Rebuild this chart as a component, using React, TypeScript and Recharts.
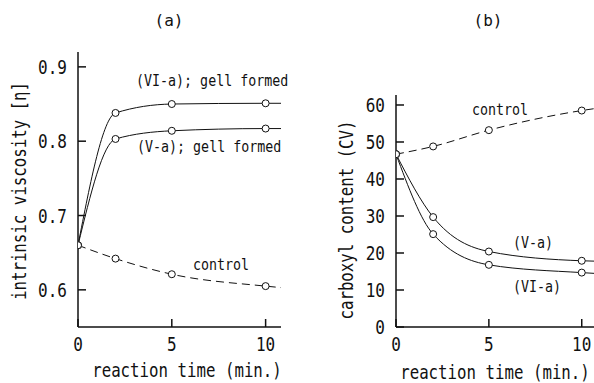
// Viscosity and carboxyl content vs. reaction time, two panels side by side

import { LineChart, Line, XAxis, YAxis } from "recharts";

// panel (a): intrinsic viscosity [η]
const timesA = [0, 2, 5, 10, 10.82];
const viscVIa = [0.66, 0.838, 0.85, 0.851, 0.851];
const viscVa = [0.66, 0.803, 0.814, 0.817, 0.817];
const viscControl = [0.66, 0.642, 0.621, 0.605, 0.603];
const viscTicks = [0.6, 0.7, 0.8, 0.9];

// panel (b): carboxyl content (CV)
const timesB = [0, 2, 5, 10, 10.66];
const carbControl = [46.7, 48.8, 53.2, 58.5, 59.0];
const carbVa = [46.7, 29.7, 20.4, 17.9, 17.8];
const carbVIa = [46.7, 25.1, 16.8, 14.7, 14.5];
const carbTicks = [0, 10, 20, 30, 40, 50, 60];

const timeTicks = [0, 5, 10];

const INK = "#111";
const FONT = "DejaVu Sans Mono";

const tableA = timesA.map((t, i) => ({ t, via: viscVIa[i], va: viscVa[i], ctl: viscControl[i] }));
const tableB = timesB.map((t, i) => ({ t, via: carbVIa[i], va: carbVa[i], ctl: carbControl[i] }));

// narrow typewriter-ish text
function Txt({ x, y, size, sx = 0.83, anchor = "middle", rotate = 0, children }: any) {
  return (
    <text
      transform={`translate(${x} ${y}) rotate(${rotate}) scale(${sx} 1)`}
      textAnchor={anchor}
      dominantBaseline="central"
      fontSize={size}
      fontFamily={FONT}
      fill={INK}
    >
      {children}
    </text>
  );
}

function XTick({ x, y, payload }: any) {
  return (
    <g>
      <line x1={x} x2={x} y1={y} y2={y - 8} stroke={INK} strokeWidth={1.5} />
      <Txt x={x} y={y + 17} size={20} sx={0.8}>{payload.value}</Txt>
    </g>
  );
}

function YTick({ x, y, payload, digits }: any) {
  return (
    <g>
      <line x1={x} x2={x + 8} y1={y} y2={y} stroke={INK} strokeWidth={1.5} />
      <Txt x={x - 11} y={y} size={20} sx={0.8} anchor="end">
        {Number(payload.value).toFixed(digits)}
      </Txt>
    </g>
  );
}

// open circles, the last row is only the line's end at the axis
function dotFor(count: number) {
  return (p: any) => {
    if (p.index === count - 1) return <g key={`d-${p.index}`} />;
    return <circle key={`d-${p.index}`} cx={p.cx} cy={p.cy} r={3.5} fill="#fff" stroke={INK} strokeWidth={1} />;
  };
}

const axisLine = { stroke: INK, strokeWidth: 1.5 };

export default function App() {
  return (
    <div style={{ position: "absolute", left: 0, top: 0, width: 594, height: 383, background: "#fff", overflow: "hidden" }}>
      <div style={{ position: "absolute", left: 0, top: 0 }}>
        <LineChart width={300} height={383} data={tableA} margin={{ top: 52, right: 19, bottom: 0, left: 0 }}>
          <XAxis
            dataKey="t"
            type="number"
            domain={[0, 10.82]}
            ticks={timeTicks}
            allowDataOverflow
            height={56}
            tickSize={0}
            tickMargin={0}
            tickLine={false}
            axisLine={axisLine}
            tick={(p: any) => <XTick {...p} />}
          />
          <YAxis
            type="number"
            domain={[0.55, 0.92]}
            ticks={viscTicks}
            allowDataOverflow
            width={78}
            tickSize={0}
            tickMargin={0}
            tickLine={false}
            axisLine={axisLine}
            tick={(p: any) => <YTick {...p} digits={1} />}
          />
          <Line type="monotone" dataKey="ctl" stroke={INK} strokeWidth={1} strokeDasharray="8 5" dot={dotFor(timesA.length)} isAnimationActive={false} />
          <Line type="monotone" dataKey="va" stroke={INK} strokeWidth={1} dot={dotFor(timesA.length)} isAnimationActive={false} />
          <Line type="monotone" dataKey="via" stroke={INK} strokeWidth={1} dot={dotFor(timesA.length)} isAnimationActive={false} />
        </LineChart>
      </div>
      <div style={{ position: "absolute", left: 297, top: 0 }}>
        <LineChart width={297} height={383} data={tableB} margin={{ top: 95, right: 0, bottom: 0, left: 0 }}>
          <XAxis
            dataKey="t"
            type="number"
            domain={[0, 10.66]}
            ticks={timeTicks}
            allowDataOverflow
            height={56}
            tickSize={0}
            tickMargin={0}
            tickLine={false}
            axisLine={axisLine}
            tick={(p: any) => <XTick {...p} />}
          />
          <YAxis
            type="number"
            domain={[0, 62.7]}
            ticks={carbTicks}
            allowDataOverflow
            width={99}
            tickSize={0}
            tickMargin={0}
            tickLine={false}
            axisLine={axisLine}
            tick={(p: any) => <YTick {...p} digits={0} />}
          />
          <Line type="monotone" dataKey="ctl" stroke={INK} strokeWidth={1} strokeDasharray="8 5" dot={dotFor(timesB.length)} isAnimationActive={false} />
          <Line type="monotone" dataKey="va" stroke={INK} strokeWidth={1} dot={dotFor(timesB.length)} isAnimationActive={false} />
          <Line type="monotone" dataKey="via" stroke={INK} strokeWidth={1} dot={dotFor(timesB.length)} isAnimationActive={false} />
        </LineChart>
      </div>
      <svg width={594} height={383} style={{ position: "absolute", left: 0, top: 0, pointerEvents: "none" }}>
        <Txt x={169} y={20} size={16} sx={1}>(a)</Txt>
        <Txt x={488} y={20} size={16} sx={1}>(b)</Txt>

        <Txt x={19} y={191} size={19} rotate={-90}>intrinsic viscosity [η]</Txt>
        <Txt x={346} y={220} size={19} rotate={-90}>carboxyl content (CV)</Txt>
        <Txt x={187} y={370} size={19}>reaction time (min.)</Txt>
        <Txt x={495} y={372} size={19}>reaction time (min.)</Txt>

        <Txt x={136} y={81} size={15.5} sx={0.86} anchor="start">(VI-a); gell formed</Txt>
        <Txt x={137} y={147} size={15.5} sx={0.86} anchor="start">(V-a); gell formed</Txt>
        <Txt x={193} y={265} size={15.5} sx={0.86} anchor="start">control</Txt>

        <Txt x={472} y={110} size={15.5} sx={0.86} anchor="start">control</Txt>
        <Txt x={513} y={243} size={15.5} sx={0.86} anchor="start">(V-a)</Txt>
        <Txt x={513} y={287} size={15.5} sx={0.86} anchor="start">(VI-a)</Txt>
      </svg>
    </div>
  );
}
